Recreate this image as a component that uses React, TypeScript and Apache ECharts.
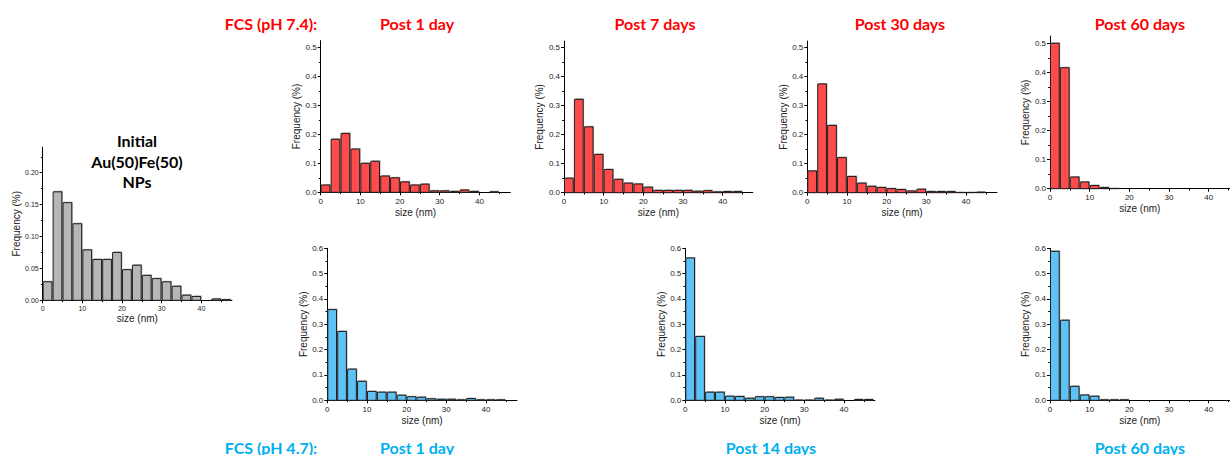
import React, { useEffect, useRef } from "react";
import * as echarts from "echarts";

// ---------- data ----------
const BIN_STARTS = [0, 2.5, 5, 7.5, 10, 12.5, 15, 17.5, 20, 22.5, 25, 27.5, 30, 32.5, 35, 37.5, 40, 42.5, 45];
const BIN_WIDTH = 2.5;

const INITIAL = [0.029, 0.17, 0.153, 0.12, 0.079, 0.064, 0.064, 0.075, 0.048, 0.055, 0.039, 0.034, 0.029, 0.022, 0.008, 0.006, 0, 0.002, 0.001];
const PH74_DAY1 = [0.025, 0.183, 0.203, 0.149, 0.1, 0.107, 0.056, 0.05, 0.036, 0.025, 0.028, 0.005, 0.005, 0.003, 0.008, 0.003, 0, 0.002];
const PH74_DAY7 = [0.05, 0.322, 0.227, 0.132, 0.08, 0.046, 0.033, 0.03, 0.019, 0.008, 0.008, 0.008, 0.008, 0.005, 0.007, 0.003, 0.004, 0.004];
const PH74_DAY30 = [0.075, 0.375, 0.232, 0.121, 0.056, 0.033, 0.022, 0.018, 0.014, 0.011, 0.006, 0.012, 0.004, 0.004, 0.004, 0.001, 0.001, 0.002];
const PH74_DAY60 = [0.5, 0.416, 0.04, 0.023, 0.011, 0.004, 0.001];
const PH47_DAY1 = [0.358, 0.272, 0.123, 0.075, 0.035, 0.032, 0.032, 0.02, 0.014, 0.012, 0.006, 0.004, 0.004, 0.002, 0.007, 0.002, 0.002, 0.002];
const PH47_DAY14 = [0.562, 0.252, 0.032, 0.032, 0.016, 0.015, 0.008, 0.014, 0.014, 0.011, 0.012, 0.001, 0.001, 0.008, 0.001, 0.004, 0, 0.003, 0.003];
const PH47_DAY60 = [0.588, 0.316, 0.055, 0.021, 0.016, 0.002, 0.002, 0.002];

const X_TICKS = [0, 10, 20, 30, 40];
const X_MINOR = [5, 15, 25, 35, 45];
const INIT_Y_TICKS = [0, 0.05, 0.1, 0.15, 0.2];
const INIT_Y_MINOR = [0.025, 0.075, 0.125, 0.175, 0.225];
const TOP_Y_TICKS = [0, 0.1, 0.2, 0.3, 0.4, 0.5];
const TOP_Y_MINOR = [0.05, 0.15, 0.25, 0.35, 0.45];
const BOT_Y_TICKS = [0, 0.1, 0.2, 0.3, 0.4, 0.5, 0.6];
const BOT_Y_MINOR = [0.05, 0.15, 0.25, 0.35, 0.45, 0.55];

const X_NAME = "size (nm)";
const Y_NAME = "Frequency (%)";

// ---------- styles / layout ----------
const RED = "#FF0000";
const BLUE = "#00B0F0";
const RED_FILL = "#FF4B4B";
const BLUE_FILL = "#5EC2F6";
const GRAY_FILL = "#B6B6B6";
const AXIS_FONT = "Liberation Sans";
const PX_PER_NM = 3.967;

type Panel = {
  values: number[];
  fill: string;
  left: number;
  zeroY: number;
  xMax: number;
  yMax: number;
  pxPerUnit: number;
  yTicks: number[];
  yMinor: number[];
  dec: number;
  labelSize: number;
  yNameGap: number;
  xNameGap: number;
};

const PANELS: Panel[] = [
  { values: INITIAL, fill: GRAY_FILL, left: 42.7, zeroY: 300.3, xMax: 47.7, yMax: 0.24, pxPerUnit: 638, yTicks: INIT_Y_TICKS, yMinor: INIT_Y_MINOR, dec: 2, labelSize: 7, yNameGap: 21, xNameGap: 13 },
  { values: PH74_DAY1, fill: RED_FILL, left: 320.7, zeroY: 192.3, xMax: 47.8, yMax: 0.523, pxPerUnit: 290, yTicks: TOP_Y_TICKS, yMinor: TOP_Y_MINOR, dec: 1, labelSize: 8, yNameGap: 18, xNameGap: 15 },
  { values: PH74_DAY7, fill: RED_FILL, left: 564, zeroY: 192.7, xMax: 47.6, yMax: 0.523, pxPerUnit: 290, yTicks: TOP_Y_TICKS, yMinor: TOP_Y_MINOR, dec: 1, labelSize: 8, yNameGap: 18, xNameGap: 15 },
  { values: PH74_DAY30, fill: RED_FILL, left: 807.3, zeroY: 192.7, xMax: 47.8, yMax: 0.523, pxPerUnit: 290, yTicks: TOP_Y_TICKS, yMinor: TOP_Y_MINOR, dec: 1, labelSize: 8, yNameGap: 18, xNameGap: 15 },
  { values: PH74_DAY60, fill: RED_FILL, left: 1050, zeroY: 188.7, xMax: 45.3, yMax: 0.525, pxPerUnit: 290.8, yTicks: TOP_Y_TICKS, yMinor: TOP_Y_MINOR, dec: 1, labelSize: 8, yNameGap: 18, xNameGap: 15 },
  { values: PH47_DAY1, fill: BLUE_FILL, left: 327.3, zeroY: 400.3, xMax: 47.8, yMax: 0.6, pxPerUnit: 253.3, yTicks: BOT_Y_TICKS, yMinor: BOT_Y_MINOR, dec: 1, labelSize: 8, yNameGap: 18, xNameGap: 15 },
  { values: PH47_DAY14, fill: BLUE_FILL, left: 685.3, zeroY: 400.3, xMax: 47.8, yMax: 0.6, pxPerUnit: 253.3, yTicks: BOT_Y_TICKS, yMinor: BOT_Y_MINOR, dec: 1, labelSize: 8, yNameGap: 18, xNameGap: 15 },
  { values: PH47_DAY60, fill: BLUE_FILL, left: 1050, zeroY: 400.3, xMax: 45.3, yMax: 0.6, pxPerUnit: 253.3, yTicks: BOT_Y_TICKS, yMinor: BOT_Y_MINOR, dec: 1, labelSize: 8, yNameGap: 18, xNameGap: 15 },
];

type Header = { text: string; x: number; y: number; color: string };
const HEADERS: Header[] = [
  { text: "FCS (pH 7.4):", x: 271, y: 23, color: RED },
  { text: "Post 1 day", x: 417, y: 23, color: RED },
  { text: "Post 7 days", x: 655, y: 23, color: RED },
  { text: "Post 30 days", x: 900, y: 23, color: RED },
  { text: "Post 60 days", x: 1140, y: 23, color: RED },
  { text: "FCS (pH 4.7):", x: 271, y: 447, color: BLUE },
  { text: "Post 1 day", x: 417, y: 447, color: BLUE },
  { text: "Post 14 days", x: 771, y: 447, color: BLUE },
  { text: "Post 60 days", x: 1140, y: 447, color: BLUE },
  { text: "Initial", x: 137, y: 140.5, color: "#000" },
  { text: "Au(50)Fe(50)", x: 137, y: 161.8, color: "#000" },
  { text: "NPs", x: 137, y: 181.8, color: "#000" },
];

function buildOption() {
  const grid: any[] = [];
  const xAxis: any[] = [];
  const yAxis: any[] = [];
  const series: any[] = [];

  PANELS.forEach((p, i) => {
    const height = p.yMax * p.pxPerUnit;
    grid.push({
      left: p.left,
      top: p.zeroY - height,
      width: p.xMax * PX_PER_NM,
      height,
      containLabel: false,
    });
    const lbl = { fontSize: p.labelSize, color: "#222", fontFamily: AXIS_FONT };
    xAxis.push({
      type: "value",
      gridIndex: i,
      min: 0,
      max: p.xMax,
      position: "bottom",
      axisLine: { show: true, onZero: false, lineStyle: { color: "#000", width: 1 } },
      axisTick: { show: true, inside: false, length: 3, customValues: X_TICKS, lineStyle: { color: "#000" } },
      axisLabel: { ...lbl, margin: 5, customValues: X_TICKS },
      splitLine: { show: false },
      name: X_NAME,
      nameLocation: "middle",
      nameGap: p.xNameGap,
      nameTextStyle: { fontSize: 10, color: "#222", fontFamily: AXIS_FONT },
    });
    xAxis.push({
      type: "value",
      gridIndex: i,
      min: 0,
      max: p.xMax,
      position: "bottom",
      axisLine: { show: false, onZero: false },
      axisTick: { show: true, inside: false, length: 1.8, customValues: X_MINOR, lineStyle: { color: "#000" } },
      axisLabel: { show: false },
      splitLine: { show: false },
    });
    yAxis.push({
      type: "value",
      gridIndex: i,
      min: 0,
      max: p.yMax,
      position: "left",
      axisLine: { show: true, onZero: false, lineStyle: { color: "#000", width: 1 } },
      axisTick: { show: true, inside: false, length: 3, customValues: p.yTicks, lineStyle: { color: "#000" } },
      axisLabel: { ...lbl, margin: 4, customValues: p.yTicks, formatter: (v: number) => v.toFixed(p.dec) },
      splitLine: { show: false },
      name: Y_NAME,
      nameLocation: "middle",
      nameGap: p.yNameGap,
      nameTextStyle: { fontSize: 10, color: "#222", fontFamily: AXIS_FONT },
    });
    yAxis.push({
      type: "value",
      gridIndex: i,
      min: 0,
      max: p.yMax,
      position: "left",
      axisLine: { show: false, onZero: false },
      axisTick: { show: true, inside: false, length: 1.8, customValues: p.yMinor, lineStyle: { color: "#000" } },
      axisLabel: { show: false },
      splitLine: { show: false },
    });

    const data = p.values.map((v, k) => [BIN_STARTS[k], BIN_STARTS[k] + BIN_WIDTH, v]);
    const fill = p.fill;
    series.push({
      type: "custom",
      xAxisIndex: 2 * i,
      yAxisIndex: 2 * i,
      data,
      encode: { x: [0, 1], y: 2 },
      clip: false,
      silent: true,
      renderItem: (_params: any, api: any) => {
        const v = api.value(2);
        if (!v) return { type: "group", children: [] };
        const a = api.coord([api.value(0), 0]);
        const b = api.coord([api.value(1), v]);
        const x = a[0] + 0.5;
        const w = b[0] - a[0] - 1.2;
        const y = b[1];
        const h = a[1] - b[1];
        return {
          type: "group",
          children: [
            { type: "rect", shape: { x: x + 1, y: y - 1, width: w, height: h }, style: { fill: "#A9A9A9" } },
            { type: "rect", shape: { x, y, width: w, height: h }, style: { fill, stroke: "#1E1E1E", lineWidth: 1 } },
          ],
        };
      },
    });
  });

  const graphic = HEADERS.map((h) => ({
    type: "text",
    x: h.x,
    y: h.y,
    silent: true,
    style: {
      text: h.text,
      fill: h.color,
      fontSize: 16,
      fontWeight: "bold",
      fontFamily: "Lato",
      align: "center",
      verticalAlign: "middle",
    },
  }));

  return {
    animation: false,
    backgroundColor: "#fff",
    grid,
    xAxis,
    yAxis,
    series,
    graphic,
  };
}

export default function App() {
  const ref = useRef<HTMLDivElement>(null);
  useEffect(() => {
    document.body.style.margin = "0";
    if (!ref.current) return;
    const chart = echarts.init(ref.current, undefined, { renderer: "svg" });
    chart.setOption(buildOption() as any);
    return () => chart.dispose();
  }, []);
  return <div ref={ref} style={{ width: 1230, height: 455 }} />;
}
